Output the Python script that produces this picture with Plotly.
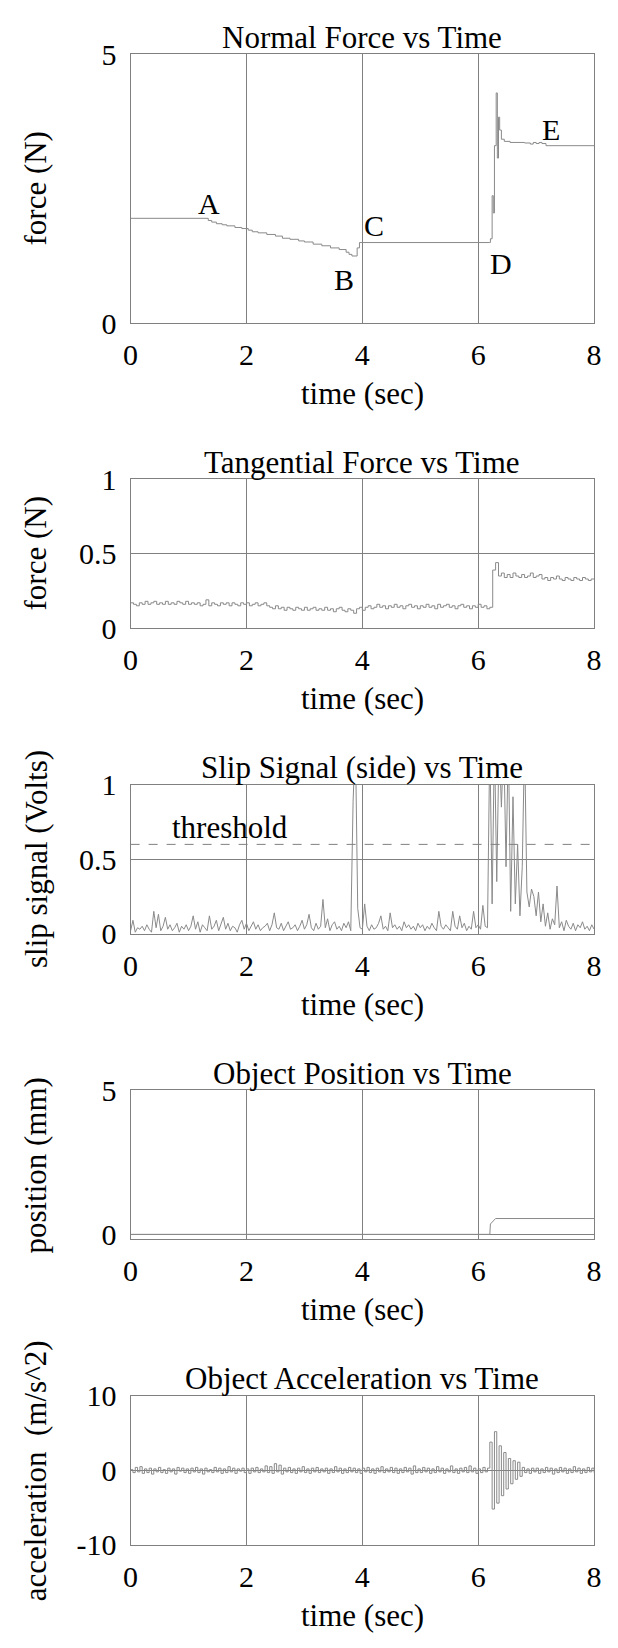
import numpy as np
import plotly.graph_objects as go

# ---------------- data ----------------
normal_t = [0.00, 1.34, 1.40, 1.48, 1.58, 1.66, 1.80, 1.92, 2.03, 2.10, 2.20, 2.35, 2.50,
            2.62, 2.75, 2.90, 3.00, 3.15, 3.30, 3.45, 3.60, 3.72, 3.77, 3.82, 3.91, 3.95,
            6.19, 6.21, 6.24, 6.26, 6.28, 6.31, 6.33, 6.35, 6.37, 6.40, 6.45, 6.55, 6.80,
            6.90, 6.95, 7.00, 7.05, 7.10, 7.17, 8.00]
normal_f = [1.95, 1.91, 1.88, 1.85, 1.83, 1.81, 1.78, 1.76, 1.73, 1.70, 1.68, 1.65, 1.62,
            1.58, 1.56, 1.53, 1.51, 1.47, 1.44, 1.40, 1.37, 1.32, 1.28, 1.25, 1.40, 1.50,
            1.50, 1.57, 2.37, 2.05, 3.30, 4.28, 3.07, 3.83, 3.59, 3.42, 3.38, 3.36, 3.35,
            3.33, 3.36, 3.34, 3.36, 3.34, 3.30, 3.30]

tang_t = np.linspace(0, 8, 161)
tang_f = [
    0.17, 0.16, 0.15, 0.17, 0.16, 0.18, 0.16, 0.17, 0.18, 0.16, 0.17, 0.16, 0.18, 0.16, 0.17, 0.16, 0.18, 0.17, 0.16, 0.18,
    0.16, 0.17, 0.16, 0.17, 0.15, 0.16, 0.19, 0.15, 0.17, 0.16, 0.15, 0.17, 0.16, 0.17, 0.15, 0.17, 0.16, 0.15, 0.17, 0.16,
    0.17, 0.15, 0.16, 0.17, 0.15, 0.16, 0.17, 0.15, 0.14, 0.13, 0.15, 0.13, 0.14, 0.12, 0.14, 0.13, 0.12, 0.14, 0.13, 0.12,
    0.14, 0.12, 0.13, 0.14, 0.12, 0.13, 0.12, 0.14, 0.12, 0.13, 0.11, 0.13, 0.14, 0.12, 0.11, 0.13, 0.12, 0.10, 0.13, 0.14,
    0.12, 0.14, 0.15, 0.13, 0.14, 0.16, 0.14, 0.15, 0.13, 0.15, 0.14, 0.16, 0.14, 0.15, 0.13, 0.15, 0.16, 0.14, 0.15, 0.13,
    0.15, 0.14, 0.16, 0.14, 0.15, 0.13, 0.16, 0.14, 0.15, 0.16, 0.14, 0.15, 0.13, 0.15, 0.16, 0.14, 0.15, 0.13, 0.15, 0.14,
    0.16, 0.14, 0.15, 0.13, 0.14, 0.39, 0.44, 0.35, 0.37, 0.34, 0.36, 0.34, 0.37, 0.35, 0.34, 0.36, 0.34, 0.35, 0.37, 0.34,
    0.35, 0.36, 0.33, 0.34, 0.32, 0.34, 0.33, 0.35, 0.33, 0.32, 0.34, 0.33, 0.32, 0.34, 0.33, 0.32, 0.34, 0.33, 0.32, 0.33,
    0.33]

slip_t = np.linspace(0, 8, 201)
slip_v = [
    0.02, 0.09, 0.01, 0.04, 0.03, 0.05, 0.02, 0.06, 0.03, 0.01, 0.15, 0.04, 0.13, 0.02, 0.05, 0.11, 0.03, 0.06, 0.02, 0.04, 0.07, 0.01, 0.05, 0.03, 0.06,
    0.02, 0.05, 0.12, 0.03, 0.08, 0.01, 0.06, 0.04, 0.02, 0.12, 0.03, 0.05, 0.09, 0.02, 0.06, 0.11, 0.03, 0.07, 0.02, 0.05, 0.04, 0.01, 0.06, 0.09, 0.03,
    0.07, 0.02, 0.05, 0.08, 0.03, 0.06, 0.02, 0.04, 0.05, 0.07, 0.02, 0.06, 0.14, 0.04, 0.03, 0.07, 0.02, 0.05, 0.08, 0.03, 0.04, 0.06, 0.02, 0.05, 0.09,
    0.03, 0.06, 0.13, 0.04, 0.02, 0.07, 0.03, 0.05, 0.23, 0.04, 0.10, 0.02, 0.06, 0.08, 0.03, 0.05, 0.02, 0.07, 0.04, 0.08, 0.02, 0.89, 1.30, 0.17, 0.04,
    0.03, 0.20, 0.05, 0.02, 0.06, 0.03, 0.04, 0.07, 0.12, 0.03, 0.05, 0.02, 0.14, 0.04, 0.06, 0.03, 0.05, 0.02, 0.08, 0.04, 0.06, 0.03, 0.05, 0.02, 0.07,
    0.04, 0.06, 0.02, 0.05, 0.03, 0.07, 0.04, 0.02, 0.15, 0.05, 0.03, 0.06, 0.04, 0.02, 0.15, 0.05, 0.03, 0.12, 0.04, 0.07, 0.02, 0.05, 0.03, 0.15, 0.04,
    0.06, 0.03, 0.19, 0.05, 0.04, 1.30, 0.20, 1.30, 0.35, 1.30, 0.85, 1.30, 0.45, 1.30, 0.15, 0.92, 0.20, 0.60, 0.12, 0.45, 1.30, 0.28, 0.18, 0.30, 0.25,
    0.12, 0.28, 0.08, 0.20, 0.05, 0.14, 0.03, 0.10, 0.06, 0.32, 0.04, 0.08, 0.02, 0.09, 0.05, 0.03, 0.07, 0.02, 0.06, 0.04, 0.08, 0.03, 0.05, 0.02, 0.06,
    0.03]
threshold = 0.6

pos_t = [0.00, 6.20, 6.21, 6.30, 8.00]
pos_v = [0.00, 0.00, 0.36, 0.55, 0.55]

acc_t = np.linspace(0, 8, 201)
acc_v = [
    0.1, -0.3, 0.4, -0.2, 0.5, -0.4, 0.2, -0.3, 0.3, -0.5, 0.2, -0.2, 0.4, -0.3, 0.1, -0.4, 0.3, -0.2, 0.2, -0.5, 0.4, -0.1, 0.3, -0.3, 0.2,
    -0.4, 0.3, -0.2, 0.4, -0.3, 0.2, -0.5, 0.3, -0.2, 0.1, -0.3, 0.4, -0.2, 0.3, -0.4, 0.2, -0.3, 0.5, -0.2, 0.3, -0.4, 0.2, -0.1, 0.3, -0.3,
    0.2, -0.4, 0.3, -0.2, 0.4, -0.3, 0.2, -0.2, 0.6, -0.3, 0.5, -0.4, 0.9, -0.2, 0.7, -0.5, 0.3, -0.2, 0.4, -0.3, 0.2, -0.4, 0.3, -0.2, 0.5,
    -0.3, 0.2, -0.4, 0.3, -0.2, 0.4, -0.3, 0.2, -0.2, 0.3, -0.4, 0.2, -0.3, 0.5, -0.2, 0.3, -0.4, 0.2, -0.3, 0.4, -0.2, 0.3, -0.3, 0.2, -0.4,
    0.3, -0.2, 0.4, -0.3, 0.2, -0.4, 0.3, -0.2, 0.5, -0.3, 0.2, -0.2, 0.4, -0.3, 0.3, -0.4, 0.2, -0.3, 0.4, -0.2, 0.3, -0.5, 0.6, -0.3, 0.2,
    -0.3, 0.4, -0.2, 0.3, -0.4, 0.2, -0.3, 0.5, -0.2, 0.3, -0.4, 0.2, -0.2, 0.6, -0.3, 0.2, -0.4, 0.3, -0.2, 0.4, -0.3, 0.6, -0.2, 0.3, -0.4,
    0.2, -0.3, 0.4, -0.2, 0.3, 3.8, -5.2, 5.2, -4.4, 3.3, -3.4, 2.4, -2.5, 1.6, -1.8, 1.3, -1.2, 1.1, -0.8, 0.4, -0.3, 0.2, -0.4, 0.3, -0.2,
    0.3, -0.4, 0.2, -0.3, 0.4, -0.2, 0.3, -0.5, 0.2, -0.3, 0.4, -0.2, 0.3, -0.4, 0.2, -0.3, 0.5, -0.2, 0.3, -0.4, 0.2, -0.3, 0.4, -0.2, 0.3,
    -0.3]

point_labels = ["A", "B", "C", "D", "E"]
point_t = [1.35, 3.69, 4.20, 6.40, 7.26]
point_f = [2.23, 0.81, 1.81, 1.11, 3.60]

titles = ["Normal Force vs Time", "Tangential Force vs Time", "Slip Signal (side) vs Time",
          "Object Position vs Time", "Object Acceleration vs Time"]
ylabels = ["force (N)", "force (N)", "slip signal (Volts)", "position (mm)",
           "acceleration&nbsp; (m/s^2)"]
y_ranges = [[0, 5], [0, 1], [0, 1], [-0.17, 5], [-10, 10]]
y_ticks = [[0, 5], [0, 0.5, 1], [0, 0.5, 1], [0, 5], [-10, 0, 10]]
y_ticktext = [["0", "5"], ["0", "0.5", "1"], ["0", "0.5", "1"], ["0", "5"], ["-10", "0", "10"]]
x_ticks = [0, 2, 4, 6, 8]

# ---------------- layout constants ----------------
W, H = 618, 1648
LEFT, RIGHT = 126.7, 601.7
PANELS = [(38, 312.7), (472, 624), (784, 936), (1096, 1248), (1408, 1560)]
GRID = "#808080"
LINE = "#8a8a8a"
FONT = "Liberation Serif, Times New Roman, serif"
TXT = 31
TICK = 30


def py(p):
    return 1 - p / H


def px(p):
    return p / W


fig = go.Figure()
series = [(normal_t, normal_f, "hv"), (tang_t, tang_f, "hv"), (slip_t, slip_v, "linear"),
          (pos_t, pos_v, "linear"), (acc_t, acc_v, "hv")]
for i, (tx, vy, shape) in enumerate(series):
    sfx = "" if i == 0 else str(i + 1)
    fig.add_trace(go.Scatter(x=tx, y=vy, mode="lines", line=dict(color=LINE, width=1, shape=shape),
                             xaxis="x" + sfx, yaxis="y" + sfx, showlegend=False, hoverinfo="skip"))

layout = dict(width=W, height=H, margin=dict(l=0, r=0, t=0, b=0),
              paper_bgcolor="white", plot_bgcolor="white",
              font=dict(family=FONT, color="black", size=TICK), showlegend=False)
annotations = []
xdom = [px(LEFT), px(RIGHT)]
for i, (top, bot) in enumerate(PANELS):
    sfx = "" if i == 0 else str(i + 1)
    layout["xaxis" + sfx] = dict(domain=xdom, anchor="y" + sfx, range=[0, 8], tickvals=x_ticks,
                                 showgrid=True, gridcolor=GRID, gridwidth=1, showline=True,
                                 linecolor=GRID, linewidth=1, mirror=True, zeroline=False,
                                 ticks="", ticklabelstandoff=5, tickfont=dict(size=TICK),
                                 fixedrange=True)
    layout["yaxis" + sfx] = dict(domain=[py(bot), py(top)], anchor="x" + sfx, range=y_ranges[i],
                                 tickvals=y_ticks[i], ticktext=y_ticktext[i],
                                 showgrid=True, gridcolor=GRID, gridwidth=1, showline=True,
                                 linecolor=GRID, linewidth=1, mirror=True, zeroline=False,
                                 ticks="", ticklabelstandoff=7, tickfont=dict(size=TICK),
                                 fixedrange=True)
    mid_x = (xdom[0] + xdom[1]) / 2
    annotations.append(dict(text=titles[i], x=mid_x, y=py(top - 17.5), xref="paper", yref="paper",
                            xanchor="center", yanchor="middle", showarrow=False, font=dict(size=TXT)))
    annotations.append(dict(text="time (sec)", x=mid_x, y=py(bot + 72), xref="paper", yref="paper",
                            xanchor="center", yanchor="middle", showarrow=False, font=dict(size=TXT)))
    annotations.append(dict(text=ylabels[i], x=px(29.5), y=py((top + bot) / 2), xref="paper",
                            yref="paper", xanchor="center", yanchor="middle", textangle=-90,
                            showarrow=False, font=dict(size=TXT)))

for lab, t, f in zip(point_labels, point_t, point_f):
    annotations.append(dict(text=lab, x=t, y=f, xref="x", yref="y", showarrow=False,
                            xanchor="center", yanchor="middle", font=dict(size=30)))

annotations.append(dict(text="threshold", x=1.72, y=0.71, xref="x3", yref="y3", showarrow=False,
                        xanchor="center", yanchor="middle", font=dict(size=TXT)))
layout["annotations"] = annotations
layout["shapes"] = [dict(type="line", xref="x3 domain", yref="y3", x0=0, x1=1, y0=threshold,
                         y1=threshold, line=dict(color=GRID, width=1, dash="dash"))]

fig.update_layout(**layout)
fig.write_html("out.html", config={"displayModeBar": False, "staticPlot": True},
               post_script="document.body.style.margin='0';document.body.style.overflow='hidden';")
